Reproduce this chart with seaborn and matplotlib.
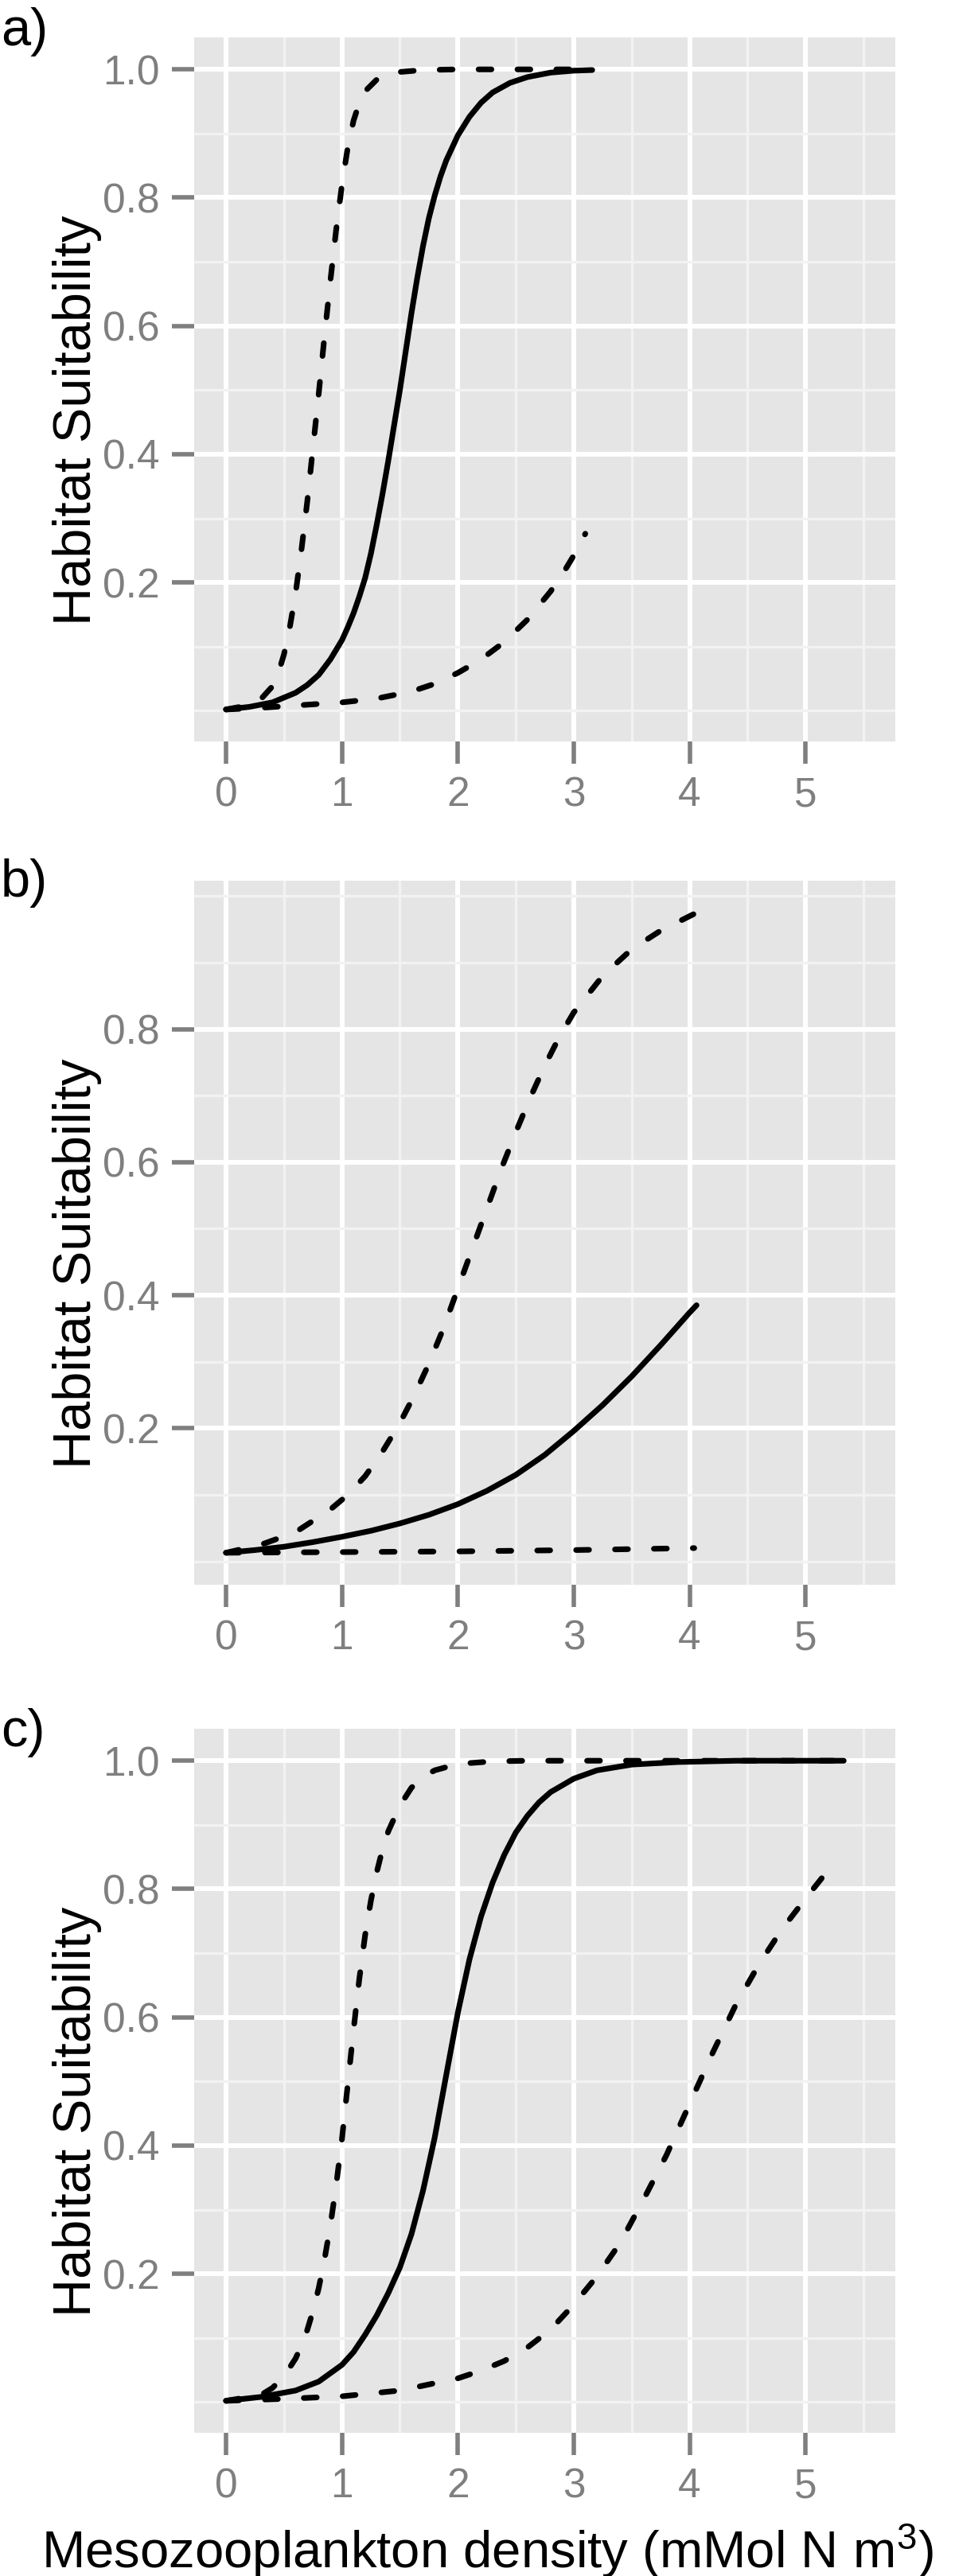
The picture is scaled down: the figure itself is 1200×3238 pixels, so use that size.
import pandas as pd
import seaborn as sns
import matplotlib.pyplot as plt

# panel a) - fitted curve and its two bounds
a_fit_x = [0, 0.2, 0.4, 0.6, 0.7, 0.8, 0.9, 1.0, 1.05, 1.1, 1.15, 1.2, 1.25, 1.3, 1.35,
           1.4, 1.45, 1.5, 1.55, 1.6, 1.65, 1.7, 1.75, 1.8, 1.85, 1.9, 2.0, 2.1, 2.2,
           2.3, 2.45, 2.6, 2.8, 3.0, 3.16]
a_fit_y = [0.002, 0.006, 0.013, 0.028, 0.04, 0.056, 0.08, 0.11, 0.13, 0.152, 0.178, 0.207,
           0.245, 0.29, 0.338, 0.39, 0.445, 0.5, 0.56, 0.62, 0.675, 0.725, 0.768, 0.803,
           0.833, 0.858, 0.897, 0.926, 0.948, 0.964, 0.979, 0.988, 0.995, 0.998, 0.999]
a_upper_x = [0, 0.15, 0.3, 0.4, 0.45, 0.5, 0.55, 0.6, 0.65, 0.7, 0.75, 0.8, 0.85, 0.9,
             0.95, 1.0, 1.05, 1.1, 1.15, 1.2, 1.3, 1.4, 1.5, 1.7, 2.0, 2.5, 3.16]
a_upper_y = [0.002, 0.007, 0.018, 0.038, 0.058, 0.088, 0.13, 0.183, 0.25, 0.325, 0.41,
             0.495, 0.585, 0.67, 0.75, 0.82, 0.878, 0.92, 0.948, 0.966, 0.984, 0.992,
             0.996, 0.999, 1.0, 1.0, 1.0]
a_lower_x = [0, 0.25, 0.5, 0.75, 1.0, 1.3, 1.6, 1.8, 2.0, 2.2, 2.4, 2.6, 2.8, 2.9, 3.0, 3.1]
a_lower_y = [0.002, 0.004, 0.007, 0.01, 0.013, 0.019, 0.03, 0.042, 0.059, 0.08, 0.107,
             0.142, 0.186, 0.212, 0.242, 0.276]

# panel b)
b_fit_x = [0, 0.25, 0.5, 0.75, 1.0, 1.25, 1.5, 1.75, 2.0, 2.25, 2.5, 2.75, 3.0, 3.25,
           3.5, 3.75, 4.0, 4.06]
b_fit_y = [0.013, 0.017, 0.022, 0.029, 0.037, 0.046, 0.057, 0.07, 0.086, 0.106, 0.13,
           0.16, 0.196, 0.235, 0.278, 0.325, 0.374, 0.385]
b_upper_x = [0, 0.3, 0.6, 0.9, 1.05, 1.2, 1.35, 1.5, 1.625, 1.75, 1.875, 2.0, 2.125, 2.25,
             2.375, 2.5, 2.625, 2.75, 2.875, 3.0, 3.25, 3.5, 3.75, 4.06]
b_upper_y = [0.013, 0.025, 0.044, 0.078, 0.1, 0.128, 0.165, 0.208, 0.25, 0.297, 0.35,
             0.41, 0.47, 0.53, 0.59, 0.645, 0.697, 0.745, 0.788, 0.825, 0.88, 0.92,
             0.948, 0.975]
b_lower_x = [0, 1, 2, 3, 4.04]
b_lower_y = [0.013, 0.014, 0.015, 0.017, 0.02]

# panel c)
c_fit_x = [0, 0.3, 0.6, 0.8, 1.0, 1.1, 1.2, 1.3, 1.4, 1.5, 1.6, 1.7, 1.8, 1.9, 2.0, 2.1,
           2.2, 2.3, 2.4, 2.5, 2.6, 2.7, 2.8, 3.0, 3.2, 3.5, 3.9, 4.4, 5.33]
c_fit_y = [0.002, 0.008, 0.018, 0.032, 0.058, 0.078, 0.105, 0.135, 0.17, 0.21, 0.262,
           0.33, 0.412, 0.51, 0.607, 0.69, 0.757, 0.81, 0.853, 0.888, 0.914, 0.935,
           0.951, 0.972, 0.985, 0.994, 0.998, 1.0, 1.0]
c_upper_x = [0, 0.3, 0.4, 0.5, 0.6, 0.65, 0.7, 0.75, 0.8, 0.85, 0.9, 0.95, 1.0, 1.05,
             1.1, 1.15, 1.2, 1.25, 1.3, 1.35, 1.4, 1.5, 1.6, 1.7, 1.8, 2.0, 2.3, 2.6, 5.33]
c_upper_y = [0.002, 0.011, 0.022, 0.04, 0.068, 0.088, 0.112, 0.142, 0.178, 0.223, 0.275,
             0.338, 0.41, 0.495, 0.58, 0.66, 0.728, 0.782, 0.826, 0.862, 0.89, 0.93,
             0.958, 0.975, 0.985, 0.995, 0.999, 1.0, 1.0]
c_lower_x = [0, 0.5, 1.0, 1.5, 2.0, 2.2, 2.4, 2.6, 2.8, 3.0, 3.2, 3.4, 3.6, 3.8, 4.0,
             4.2, 4.4, 4.6, 4.8, 5.0, 5.22]
c_lower_y = [0.002, 0.005, 0.009, 0.018, 0.037, 0.049, 0.064, 0.085, 0.113, 0.152, 0.196,
             0.248, 0.315, 0.385, 0.465, 0.545, 0.62, 0.683, 0.738, 0.785, 0.835]

panel_labels = ["a)", "b)", "c)"]
x_breaks = [0, 1, 2, 3, 4, 5]
x_minor = [0.5, 1.5, 2.5, 3.5, 4.5, 5.5]
y_breaks = [0.0, 0.2, 0.4, 0.6, 0.8, 1.0]
y_minor = [0.1, 0.3, 0.5, 0.7, 0.9]

sns.set_theme(style="darkgrid")
plt.rcParams["font.family"] = ["Liberation Sans", "DejaVu Sans"]
plt.rcParams["mathtext.fontset"] = "custom"
plt.rcParams["mathtext.rm"] = "Liberation Sans"
plt.rcParams["mathtext.it"] = "Liberation Sans:italic"
plt.rcParams["lines.solid_capstyle"] = "round"
plt.rcParams["lines.solid_joinstyle"] = "round"
plt.rcParams["lines.dash_capstyle"] = "round"
plt.rcParams["lines.dash_joinstyle"] = "round"

W, H = 1200, 3238
fig = plt.figure(figsize=(W / 100, H / 100), dpi=100)

panels = [
    (a_fit_x, a_fit_y, a_upper_x, a_upper_y, a_lower_x, a_lower_y),
    (b_fit_x, b_fit_y, b_upper_x, b_upper_y, b_lower_x, b_lower_y),
    (c_fit_x, c_fit_y, c_upper_x, c_upper_y, c_lower_x, c_lower_y),
]
tops = [47, 1107, 2173]          # panel tops in pixels
label_base = [57, 1127, 2195]    # baselines of a) b) c)
left, right, ph = 244, 1125, 885

for i, (fx, fy, ux, uy, lx, ly) in enumerate(panels):
    ax = fig.add_axes([left / W, (H - tops[i] - ph) / H, (right - left) / W, ph / H])
    ax.set_facecolor("#E5E5E5")
    df = pd.concat([
        pd.DataFrame({"x": fx, "y": fy, "curve": "fit", "kind": "fit"}),
        pd.DataFrame({"x": ux, "y": uy, "curve": "upper", "kind": "bound"}),
        pd.DataFrame({"x": lx, "y": ly, "curve": "lower", "kind": "bound"}),
    ])
    sns.lineplot(data=df, x="x", y="y", units="curve", style="kind", estimator=None,
                 sort=False, dashes={"fit": "", "bound": (2.3, 4.6)}, color="black",
                 linewidth=5.1, legend=False, ax=ax)

    # ggplot style limits: 5% expansion of the data range
    ymin, ymax = df["y"].min(), df["y"].max()
    pad = 0.05 * (ymax - ymin)
    lo, hi = ymin - pad, ymax + pad
    ax.set_xlim(-0.275, 5.775)
    ax.set_ylim(lo, hi)
    major = [b for b in y_breaks if ymin <= b <= ymax]
    minor = y_minor + [b for b in y_breaks if lo <= b <= hi and b not in major]
    ax.set_xticks(x_breaks)
    ax.set_xticklabels([str(v) for v in x_breaks])
    ax.set_xticks(x_minor, minor=True)
    ax.set_yticks(major)
    ax.set_yticklabels([f"{v:.1f}" for v in major])
    ax.set_yticks(minor, minor=True)

    ax.grid(which="major", color="white", linewidth=4.3)
    ax.grid(which="minor", color="#F2F2F2", linewidth=2.4)
    ax.tick_params(which="major", bottom=True, left=True, length=20, width=4,
                   color="#7F7F7F", labelcolor="#7F7F7F", labelsize=37, pad=11)
    ax.tick_params(which="minor", length=0)
    for s in ax.spines.values():
        s.set_visible(False)

    ax.set_xlabel("")
    ax.set_ylabel("Habitat Suitability", fontsize=48, color="black", va="baseline")
    ax.yaxis.set_label_coords((114 - left) / (right - left), 0.456)

    fig.text(1 / W, 1 - label_base[i] / H, panel_labels[i], fontsize=48,
             ha="left", va="baseline", color="black")

    if i == 2:
        ax.set_xlabel(r"Mesozooplankton density (mMol N m$^3$)", fontsize=47,
                      color="black", ha="left", va="baseline")
        ax.xaxis.set_label_coords((52 - left) / (right - left), -(3228 - 3058) / ph)

fig.savefig("out.png", dpi=100)
